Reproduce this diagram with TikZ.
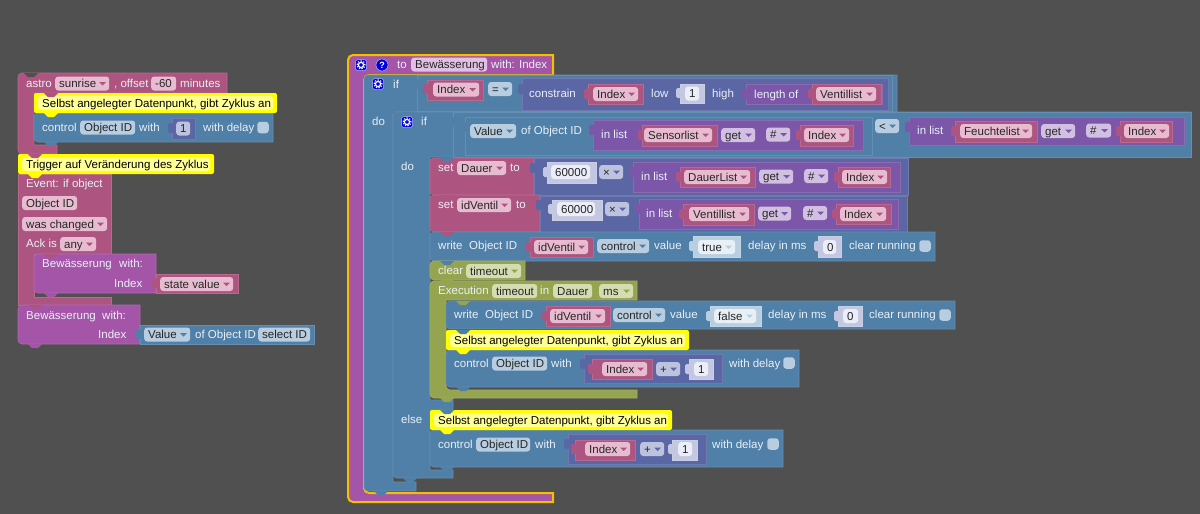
\documentclass[tikz,border=0pt]{standalone}
\usepackage{fontspec}
\setmainfont{Liberation Sans}
\usetikzlibrary{positioning, calc}
\definecolor{canvasGray}{RGB}{80, 80, 80}
\definecolor{blockPink}{RGB}{173, 85, 128}
\definecolor{blockBlue}{RGB}{80, 127, 168}
\definecolor{blockFunc}{RGB}{165, 85, 168}
\definecolor{blockIndigo}{RGB}{91, 103, 165}
\definecolor{blockList}{RGB}{124, 86, 168}
\definecolor{blockOlive}{RGB}{149, 165, 79}
\definecolor{blockLight}{RGB}{195, 199, 225}
\definecolor{blockPale}{RGB}{184, 207, 226}
\definecolor{commentYellow}{RGB}{255, 255, 0}
\definecolor{commentPale}{RGB}{255, 255, 150}
\definecolor{selectOrange}{RGB}{245, 190, 0}
\definecolor{labelWhite}{RGB}{232, 240, 246}
\definecolor{fieldP}{RGB}{232, 188, 208}
\definecolor{dropP}{RGB}{173, 85, 128}
\definecolor{fieldB}{RGB}{184, 205, 224}
\definecolor{dropB}{RGB}{80, 127, 168}
\definecolor{fieldV}{RGB}{210, 192, 226}
\definecolor{dropV}{RGB}{124, 86, 168}
\definecolor{fieldI}{RGB}{189, 194, 222}
\definecolor{dropI}{RGB}{91, 103, 165}
\definecolor{fieldO}{RGB}{212, 220, 178}
\definecolor{dropO}{RGB}{149, 165, 79}
\definecolor{fieldF}{RGB}{226, 192, 228}
\definecolor{dropF}{RGB}{165, 85, 168}
\definecolor{fieldW}{RGB}{235, 238, 248}
\definecolor{dropW}{RGB}{195, 199, 225}
\definecolor{fieldT}{RGB}{232, 240, 246}
\definecolor{dropT}{RGB}{184, 207, 226}

\tikzset{
  blockbox/.style={fill=#1, draw=#1!88!white, line width=0.6pt},
  lbl/.style={anchor=west, inner sep=0pt, text=labelWhite, text height=10pt, text depth=2pt, font=\fontsize{11.5}{14}\selectfont},
  fieldbox/.style={anchor=west, rounded corners=3pt, inner xsep=4pt, inner ysep=1pt, minimum height=14pt,
                   text=black!85, text height=10pt, text depth=2pt, font=\fontsize{11.5}{14}\selectfont},
  gearbox/.style={rounded corners=2.5pt, fill=blue!85!black, draw=blue!30!white, line width=0.5pt, minimum size=11pt, inner sep=0pt},
  checkbox/.style={rounded corners=3pt, fill=fieldB, minimum size=11.5pt, inner sep=0pt}
}
% x1 y1 x2 y2
\newcommand{\blk}[5]{\draw[blockbox=#1] (#2,#3) rectangle (#4,#5);}
% left edge, top, right edge, bottom, rounded on the left
\newcommand{\stm}[5]{\draw[blockbox=#1] (#4,#3) [rounded corners=4pt] -- (#2,#3) -- (#2,#5) [sharp corners] -- (#4,#5) -- cycle;}
\newcommand{\lbl}[4]{\node[lbl] (#1) at (#2,#3) {#4};}
% no drop arrow
\newcommand{\fld}[6]{\pgfmathsetmacro\fldw{#4-#3-8}
  \node[fieldbox, fill=field#1] (#2) at (#3,#5) {\makebox[\fldw pt][l]{#6}};}
% with drop arrow
\newcommand{\ddn}[6]{\pgfmathsetmacro\fldw{#4-#3-8}
  \node[fieldbox, fill=field#1] (#2) at (#3,#5) {\makebox[\fldw pt][l]{#6}};
  \fill[drop#1] ($(#4,#5)+(-10,-1.5)$) -- ++(7,0) -- ++(-3.5,3.5) -- cycle;}
\newcommand{\plug}[3]{\fill[#1, rounded corners=1.5pt] ($(#2,#3)+(-4,-5)$) rectangle ($(#2,#3)+(1.5,5)$);}
\newcommand{\notch}[3]{\fill[#1] (#2,#3) -- ++(4,4) -- ++(6,0) -- ++(4,-4) -- cycle;}
\newcommand{\gear}[3]{\node[gearbox] (#1) at (#2,#3) {};
  \draw[white, line width=1.2pt] (#2,#3) circle (2.6pt);
  \draw[white, line width=1.2pt, dash pattern=on 1.2pt off 1.5pt] (#2,#3) circle (4pt);}
% name, left, right, top, text
\newcommand{\cmt}[5]{\pgfmathsetmacro\cmtb{#4+20}\pgfmathsetmacro\cmtc{#4+10}\pgfmathsetmacro\cmtw{#3-#2-16}
  \fill[commentYellow, rounded corners=2pt] (#2,#4) rectangle (#3,\cmtb);
  \node[fieldbox, fill=commentPale, inner xsep=4pt, text=black] (#1) at ($(#2,\cmtc)+(4,0)$) {\makebox[\cmtw pt][l]{#5}};}

\begin{document}
\begin{tikzpicture}[x=1pt, y=-1pt]
  \useasboundingbox (0,0) rectangle (1200,514);
  \fill[canvasGray] (0,0) rectangle (1200,514);

  % astro stack
  \draw[blockbox=blockPink] (57,154) [rounded corners=4pt] -- (18,154) -- (18,73) [sharp corners] -- (227,73) -- (227,93) -- (34,93) -- (34,145) -- (57,145) -- cycle;
  \notch{canvasGray}{24}{73}
  \lbl{astroText}{26}{83}{astro}
  \ddn{P}{sunriseField}{55}{109}{83.5}{sunrise}
  \lbl{offsetText}{114}{83}{, offset}
  \fld{P}{offsetField}{151}{176}{83.5}{-60}
  \lbl{minutesText}{180}{83}{minutes}
  \stm{blockBlue}{34}{113}{273}{142}
  \cmt{commentA}{34}{277}{93}{Selbst angelegter Datenpunkt, gibt Zyklus an}
  \notch{blockPink}{44}{93}
  \notch{commentYellow}{44}{113}
  \notch{blockBlue}{44}{142}
  \lbl{controlA}{42}{127}{control}
  \fld{B}{objectA}{80}{135}{127.5}{Object ID}
  \lbl{withA}{139}{127}{with}
  \blk{blockIndigo}{172}{118}{195}{139}
  \plug{blockIndigo}{172}{128}
  \fld{I}{oneA}{176}{190}{128.5}{1}
  \lbl{delayA}{203}{127}{with delay}
  \node[checkbox] (checkA) at (263,127.5) {};

  % event stack
  \draw[blockbox=blockPink] (111,305) -- (18,305) -- (18,174) -- (111,174) -- (111,254) -- (34,254) -- (34,297) -- (111,297) -- cycle;
  \cmt{commentB}{18}{214}{154}{Trigger auf Veränderung des Zyklus}
  \notch{blockPink}{28}{154}
  \notch{commentYellow}{28}{174}
  \lbl{eventText}{26}{183}{Event: if object}
  \fld{P}{objectB}{22}{77}{203}{Object ID}
  \ddn{P}{changedField}{22}{107}{224}{was changed}
  \lbl{ackText}{26}{243}{Ack is}
  \ddn{P}{anyField}{60}{96}{244}{any}
  \stm{blockFunc}{34}{254}{156}{293}
  \notch{blockPink}{44}{254}
  \notch{blockFunc}{44}{293}
  \lbl{callA}{42}{263}{Bewässerung}
  \lbl{withCallA}{119}{263}{with:}
  \lbl{indexCallA}{114}{283}{Index}
  \blk{blockPink}{156}{274}{238}{293}
  \plug{blockPink}{156}{283}
  \ddn{P}{stateField}{160}{233}{284}{state value}
  \stm{blockFunc}{18}{305}{140}{344}
  \notch{blockPink}{28}{305}
  \notch{blockFunc}{28}{344}
  \lbl{callB}{26}{315}{Bewässerung}
  \lbl{withCallB}{102}{315}{with:}
  \lbl{indexCallB}{98}{334}{Index}
  \blk{blockBlue}{140}{325}{314}{344}
  \plug{blockBlue}{140}{334}
  \ddn{B}{valueA}{144}{190}{334.5}{Value}
  \lbl{ofObjectA}{195}{334}{of Object ID}
  \fld{B}{selectField}{258}{310}{334.5}{select ID}

  % function
  \draw[blockbox=blockFunc, draw=selectOrange, line width=2pt] (553,502) [rounded corners=5pt] -- (348,502) -- (348,55) [sharp corners] -- (553,55) -- (553,75) [rounded corners=5pt] -- (364,75) -- (364,493) [sharp corners] -- (553,493) -- cycle;
  \gear{gearFunc}{361}{65}
  \node[circle, fill=blue!85!black, draw=blue!30!white, line width=0.5pt, minimum size=12pt, inner sep=0pt, text=white, font=\fontsize{9}{9}\selectfont\bfseries] (helpIcon) at (382,65) {?};
  \lbl{toText}{397}{64}{to}
  \fld{F}{nameField}{411}{487}{64.5}{Bewässerung}
  \lbl{withIndex}{491}{64}{with: Index}

  % outer if
  \draw[blockbox=blockBlue] (416,491) [rounded corners=4pt] -- (364,491) -- (364,75) [sharp corners] -- (897,75) -- (897,112) -- (393,112) -- (393,482) -- (416,482) -- cycle;
  \gear{gearIfA}{378}{84}
  \lbl{ifA}{393}{84}{if}
  \lbl{doA}{372}{121}{do}
  \blk{blockBlue}{417}{75}{892}{111}
  \plug{blockBlue}{417}{84}
  \blk{blockPink}{427}{80}{483}{100}
  \plug{blockPink}{427}{89}
  \ddn{P}{indexA}{433}{479}{89.5}{Index}
  \ddn{B}{equalField}{488}{512}{89}{=}
  \blk{blockIndigo}{522}{78}{888}{110}
  \plug{blockIndigo}{522}{89}
  \lbl{constrainText}{529}{93}{constrain}
  \blk{blockPink}{588}{84}{643}{104}
  \plug{blockPink}{588}{94}
  \ddn{P}{indexB}{593}{638}{94}{Index}
  \lbl{lowText}{651}{93}{low}
  \blk{blockLight}{680}{84}{704}{103}
  \plug{blockLight}{680}{93}
  \fld{W}{oneB}{685}{699}{93.5}{1}
  \lbl{highText}{712}{93}{high}
  \blk{blockList}{746}{84}{882}{104}
  \plug{blockList}{746}{94}
  \lbl{lengthText}{754}{94}{length of}
  \blk{blockPink}{812}{84}{881}{104}
  \plug{blockPink}{812}{94}
  \ddn{P}{ventilA}{816}{876}{94}{Ventillist}

  % inner if
  \draw[blockbox=blockBlue] (453,478) [rounded corners=4pt] -- (393,478) -- (393,112) [sharp corners] -- (1191,112) -- (1191,157) -- (430,157) -- (430,400) -- (453,400) -- (453,410) -- (430,410) -- (430,470) -- (453,470) -- cycle;
  \notch{blockBlue}{403}{112}
  \gear{gearIfB}{407}{122}
  \lbl{ifB}{421}{121}{if}
  \lbl{doB}{401}{166}{do}
  \lbl{elseText}{401}{419}{else}
  \blk{blockBlue}{453}{112}{1191}{157}
  \plug{blockBlue}{453}{122}
  \blk{blockBlue}{465}{117}{872}{155}
  \plug{blockBlue}{465}{127}
  \ddn{B}{valueB}{470}{516}{131}{Value}
  \lbl{ofObjectB}{521}{130}{of Object ID}
  \blk{blockList}{593}{120}{863}{150}
  \plug{blockList}{593}{130}
  \lbl{inListA}{601}{134}{in list}
  \blk{blockPink}{642}{125}{717}{146}
  \plug{blockPink}{642}{135}
  \ddn{P}{sensorField}{644}{712}{135}{Sensorlist}
  \ddn{V}{getA}{721}{755}{135}{get}
  \ddn{V}{hashA}{766}{790}{134.5}{\#}
  \blk{blockPink}{800}{125}{853}{146}
  \plug{blockPink}{800}{135}
  \ddn{P}{indexC}{804}{849}{135}{Index}
  \ddn{B}{lessField}{875}{899}{126}{<}
  \blk{blockList}{909}{117}{1184}{145}
  \plug{blockList}{909}{127}
  \lbl{inListB}{917}{130}{in list}
  \blk{blockPink}{955}{121}{1037}{142}
  \plug{blockPink}{955}{131}
  \ddn{P}{feuchteField}{960}{1032}{131}{Feuchtelist}
  \ddn{V}{getB}{1041}{1075}{131}{get}
  \ddn{V}{hashB}{1086}{1111}{130.5}{\#}
  \blk{blockPink}{1120}{121}{1172}{142}
  \plug{blockPink}{1120}{131}
  \ddn{P}{indexD}{1124}{1169}{131}{Index}

  % set Dauer
  \stm{blockPink}{430}{158}{534}{195}
  \notch{blockBlue}{440}{158}
  \lbl{setA}{438}{167}{set}
  \ddn{P}{dauerField}{457}{506}{168}{Dauer}
  \lbl{toA}{510}{167}{to}
  \blk{blockIndigo}{534}{158}{908}{195}
  \plug{blockIndigo}{534}{168}
  \blk{blockLight}{547}{162}{596}{183}
  \plug{blockLight}{547}{172}
  \fld{W}{sixtyA}{551}{590}{172}{60000}
  \ddn{I}{timesA}{599}{623}{172}{×}
  \blk{blockList}{633}{162}{900}{192}
  \plug{blockList}{633}{172}
  \lbl{inListC}{641}{176}{in list}
  \blk{blockPink}{680}{167}{755}{187}
  \plug{blockPink}{680}{177}
  \ddn{P}{dauerList}{684}{750}{177}{DauerList}
  \ddn{V}{getC}{759}{793}{176.5}{get}
  \ddn{V}{hashC}{804}{828}{176}{\#}
  \blk{blockPink}{838}{167}{890}{187}
  \plug{blockPink}{838}{177}
  \ddn{P}{indexE}{842}{887}{177}{Index}

  % set idVentil
  \stm{blockPink}{430}{195}{540}{232}
  \notch{blockPink}{440}{195}
  \lbl{setB}{438}{204}{set}
  \ddn{P}{idVentilA}{457}{511}{205}{idVentil}
  \lbl{toB}{516}{204}{to}
  \blk{blockIndigo}{540}{196}{907}{232}
  \plug{blockIndigo}{540}{205}
  \blk{blockLight}{552}{200}{602}{220}
  \plug{blockLight}{552}{209}
  \fld{W}{sixtyB}{557}{595}{209}{60000}
  \ddn{I}{timesB}{605}{629}{209}{×}
  \blk{blockList}{639}{199}{898}{229}
  \plug{blockList}{639}{209}
  \lbl{inListD}{646}{213}{in list}
  \blk{blockPink}{683}{204}{754}{225}
  \plug{blockPink}{683}{214}
  \ddn{P}{ventilB}{689}{749}{214}{Ventillist}
  \ddn{V}{getD}{758}{791}{213.5}{get}
  \ddn{V}{hashD}{803}{827}{213}{\#}
  \blk{blockPink}{836}{204}{891}{224}
  \plug{blockPink}{836}{214}
  \ddn{P}{indexF}{840}{886}{214}{Index}

  % write true
  \stm{blockBlue}{430}{232}{935}{261}
  \notch{blockPink}{440}{232}
  \lbl{writeA}{438}{245}{write}
  \lbl{objectC}{469}{245}{Object ID}
  \blk{blockPink}{530}{237}{593}{257}
  \plug{blockPink}{530}{247}
  \ddn{P}{idVentilB}{534}{588}{247}{idVentil}
  \ddn{B}{controlFieldA}{597}{649}{246}{control}
  \lbl{valueTextA}{654}{245}{value}
  \blk{blockPale}{693}{236}{740}{257}
  \plug{blockPale}{693}{246}
  \ddn{T}{trueField}{698}{735}{247}{true}
  \lbl{delayMsA}{748}{245}{delay in ms}
  \blk{blockLight}{818}{236}{841}{257}
  \plug{blockLight}{818}{246}
  \fld{W}{zeroA}{823}{836}{247}{0}
  \lbl{clearRunA}{849}{245}{clear running}
  \node[checkbox] (checkB) at (925,246) {};

  % clear timeout
  \stm{blockOlive}{430}{261}{525}{280}
  \notch{blockBlue}{440}{261}
  \lbl{clearText}{438}{270}{clear}
  \ddn{O}{timeoutA}{466}{521}{271}{timeout}

  % execution
  \draw[blockbox=blockOlive] (637,398) [rounded corners=4pt] -- (430,398) -- (430,281) [sharp corners] -- (637,281) -- (637,300) -- (446,300) [rounded corners=4pt] -- (446,390) [sharp corners] -- (637,390) -- cycle;
  \notch{blockOlive}{440}{280}
  \lbl{execText}{438}{290}{Execution}
  \fld{O}{timeoutB}{492}{537}{291}{timeout}
  \lbl{inText}{540}{290}{in}
  \fld{O}{dauerB}{553}{592}{291}{Dauer}
  \ddn{O}{msField}{599}{633}{291}{ms}

  % write false
  \stm{blockBlue}{446}{301}{955}{329}
  \notch{blockOlive}{456}{301}
  \lbl{writeB}{454}{314}{write}
  \lbl{objectD}{485}{314}{Object ID}
  \blk{blockPink}{546}{306}{610}{326}
  \plug{blockPink}{546}{316}
  \ddn{P}{idVentilC}{550}{605}{316}{idVentil}
  \ddn{B}{controlFieldB}{613}{665}{315}{control}
  \lbl{valueTextB}{670}{314}{value}
  \blk{blockPale}{710}{306}{761}{326}
  \plug{blockPale}{710}{316}
  \ddn{T}{falseField}{714}{756}{316}{false}
  \lbl{delayMsB}{768}{314}{delay in ms}
  \blk{blockLight}{838}{306}{862}{326}
  \plug{blockLight}{838}{316}
  \fld{W}{zeroB}{843}{858}{316}{0}
  \lbl{clearRunB}{869}{314}{clear running}
  \node[checkbox] (checkC) at (945,315) {};

  % control in execution
  \stm{blockBlue}{446}{350}{799}{387}
  \cmt{commentC}{446}{689}{330}{Selbst angelegter Datenpunkt, gibt Zyklus an}
  \notch{blockBlue}{456}{330}
  \notch{commentYellow}{456}{350}
  \notch{blockBlue}{456}{387}
  \notch{blockOlive}{440}{398}
  \lbl{controlC}{454}{363}{control}
  \fld{B}{objectE}{492}{547}{363.5}{Object ID}
  \lbl{withC}{551}{363}{with}
  \blk{blockIndigo}{584}{354}{722}{383}
  \plug{blockIndigo}{584}{364}
  \blk{blockPink}{592}{359}{652}{379}
  \plug{blockPink}{592}{369}
  \ddn{P}{indexG}{602}{647}{369}{Index}
  \ddn{I}{plusA}{656}{680}{369}{+}
  \blk{blockLight}{689}{359}{713}{379}
  \plug{blockLight}{689}{369}
  \fld{W}{oneC}{694}{708}{369}{1}
  \lbl{delayC}{729}{363}{with delay}
  \node[checkbox] (checkD) at (789,363) {};

  % control in else
  \stm{blockBlue}{430}{430}{783}{467}
  \cmt{commentD}{430}{672}{410}{Selbst angelegter Datenpunkt, gibt Zyklus an}
  \notch{blockBlue}{440}{410}
  \notch{commentYellow}{440}{430}
  \notch{blockBlue}{440}{467}
  \notch{blockBlue}{403}{478}
  \notch{blockBlue}{374}{491}
  \lbl{controlD}{438}{444}{control}
  \fld{B}{objectF}{476}{530}{444.5}{Object ID}
  \lbl{withD}{535}{444}{with}
  \blk{blockIndigo}{568}{434}{706}{464}
  \plug{blockIndigo}{568}{444}
  \blk{blockPink}{575}{440}{635}{460}
  \plug{blockPink}{575}{449}
  \ddn{P}{indexH}{585}{630}{449}{Index}
  \ddn{I}{plusB}{640}{664}{449}{+}
  \blk{blockLight}{672}{440}{697}{460}
  \plug{blockLight}{672}{449}
  \fld{W}{oneD}{678}{692}{449}{1}
  \lbl{delayD}{712}{444}{with delay}
  \node[checkbox] (checkE) at (773,444) {};
\end{tikzpicture}
\end{document}
